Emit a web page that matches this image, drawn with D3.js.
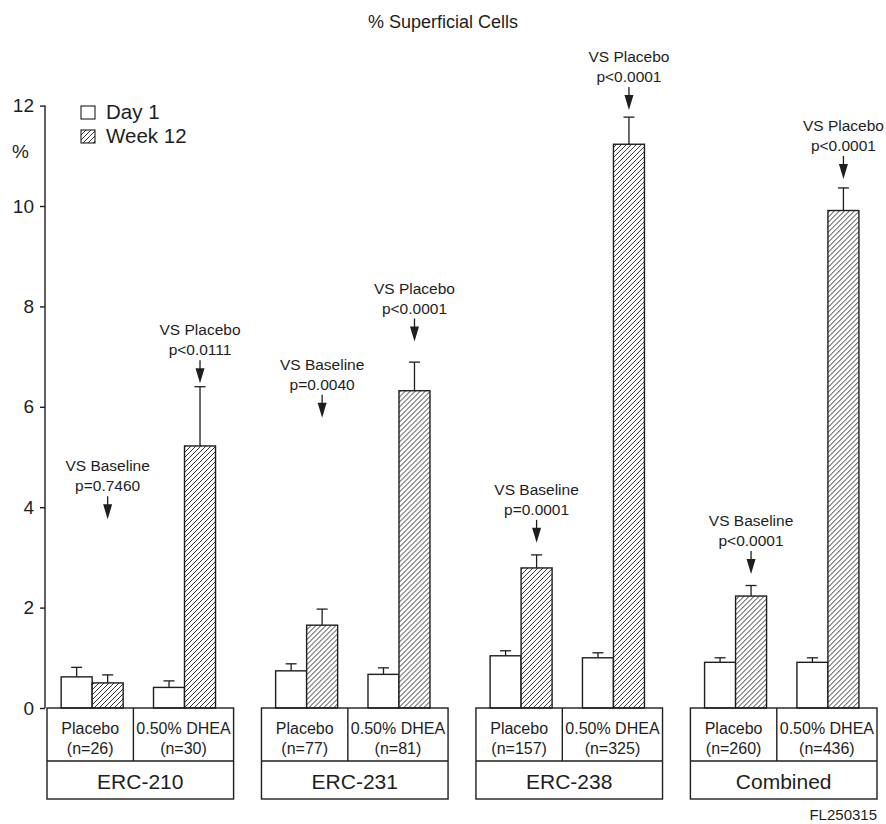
<!DOCTYPE html>
<html>
<head>
<meta charset="utf-8">
<script src="https://cdn.jsdelivr.net/npm/d3@7"></script>
<style>
  body { margin: 0; background: #fff; }
  svg { display: block; font-family: "Liberation Sans", Arial, Helvetica, sans-serif; }
</style>
</head>
<body>
<svg id="chart" width="886" height="824"></svg>
<script>
// ---- data ----
const studies = ["ERC-210", "ERC-231", "ERC-238", "Combined"];
const arms = ["Placebo", "0.50% DHEA"];
const timepoints = ["Day 1", "Week 12"];
const sampleSizes = [[26, 30], [77, 81], [157, 325], [260, 436]];
// mean % superficial cells, indexed [study][arm]
const day1Means   = [[0.62, 0.41], [0.74, 0.67], [1.04, 1.00], [0.91, 0.91]];
const day1Upper   = [[0.81, 0.54], [0.88, 0.80], [1.14, 1.10], [1.00, 1.00]];
const week12Means = [[0.50, 5.22], [1.65, 6.32], [2.79, 11.23], [2.23, 9.91]];
const week12Upper = [[0.66, 6.40], [1.97, 6.89], [3.05, 11.77], [2.44, 10.36]];
const yTicks = [0, 2, 4, 6, 8, 10, 12];
// significance notes over each Week 12 bar
const compLabels = [["VS Baseline", "VS Placebo"], ["VS Baseline", "VS Placebo"],
                    ["VS Baseline", "VS Placebo"], ["VS Baseline", "VS Placebo"]];
const pValues = [["p=0.7460", "p<0.0111"], ["p=0.0040", "p<0.0001"],
                 ["p=0.0001", "p<0.0001"], ["p<0.0001", "p<0.0001"]];
const arrowTips = [[3.76, 6.47], [5.78, 7.30], [3.29, 11.91], [2.67, 10.54]];

// ---- layout ----
const ink = "#1e1e1e";
const svg = d3.select("#chart");
const y = d3.scaleLinear().domain([0, 12]).range([708, 105.6]);
const x = d3.scaleBand().domain(studies).range([47, 877]).paddingInner(0.13);
const bw = x.bandwidth();
const armX = d3.scalePoint().domain(arms).range([bw * 0.242, bw * 0.737]);
const timeX = d3.scaleBand().domain(timepoints).range([-31, 31]);
const splitFrac = 0.463;
const row1 = 53, row2 = 38;

// hatch pattern
const defs = svg.append("defs");
const pat = defs.append("pattern").attr("id", "hatch")
  .attr("patternUnits", "userSpaceOnUse").attr("width", 5).attr("height", 5);
pat.append("rect").attr("width", 5).attr("height", 5).attr("fill", "#fff");
pat.append("path").attr("d", "M-1,1 l2,-2 M0,5 l5,-5 M4,6 l2,-2")
  .attr("stroke", ink).attr("stroke-width", 0.9);

// title
svg.append("text").attr("x", 443).attr("y", 28).attr("text-anchor", "middle")
  .attr("font-size", 18).attr("fill", ink).text("% Superficial Cells");

// y axis
const yAxis = d3.axisLeft(y).tickValues(yTicks).tickSize(5).tickPadding(6)
  .tickFormat(d3.format("d"));
const ya = svg.append("g").attr("transform", "translate(45,0)").call(yAxis);
ya.select(".domain").attr("stroke", ink).attr("stroke-width", 1.4).attr("d", `M0,${y(12)}V${y(0)}`);
ya.selectAll(".tick line").attr("stroke", ink).attr("stroke-width", 1.4);
ya.selectAll(".tick text").attr("font-size", 19).attr("fill", ink)
  .attr("font-family", "Liberation Sans, Arial, sans-serif");
svg.append("text").attr("x", 12).attr("y", 158).attr("font-size", 19).attr("fill", ink).text("%");

// legend
const leg = svg.append("g").attr("transform", "translate(81,106)");
timepoints.forEach((t, i) => {
  const g = leg.append("g").attr("transform", `translate(0,${i * 24})`);
  g.append("rect").attr("width", 14).attr("height", 13)
    .attr("fill", i ? "url(#hatch)" : "#fff").attr("stroke", ink).attr("stroke-width", 1.1);
  g.append("text").attr("x", 25).attr("y", 13).attr("font-size", 20.5).attr("fill", ink).text(t);
});

// per-study groups
studies.forEach((s, si) => {
  const g = svg.append("g").attr("transform", `translate(${x(s)},0)`);
  arms.forEach((a, ai) => {
    const cx = armX(a);
    const means = [day1Means[si][ai], week12Means[si][ai]];
    const uppers = [day1Upper[si][ai], week12Upper[si][ai]];
    timepoints.forEach((t, ti) => {
      const bx = cx + timeX(t);
      const mid = bx + timeX.bandwidth() / 2;
      // error bar
      g.append("line").attr("x1", mid).attr("x2", mid)
        .attr("y1", y(means[ti])).attr("y2", y(uppers[ti]))
        .attr("stroke", ink).attr("stroke-width", 1.3);
      g.append("line").attr("x1", mid - 5.5).attr("x2", mid + 5.5)
        .attr("y1", y(uppers[ti])).attr("y2", y(uppers[ti]))
        .attr("stroke", ink).attr("stroke-width", 1.3);
      // bar
      g.append("rect").attr("x", bx).attr("width", timeX.bandwidth())
        .attr("y", y(means[ti])).attr("height", y(0) - y(means[ti]))
        .attr("fill", ti ? "url(#hatch)" : "#fff")
        .attr("stroke", ink).attr("stroke-width", 1.4);
    });
    // significance note with arrow, over the Week 12 bar
    const ax = cx + timeX("Week 12") + timeX.bandwidth() / 2;
    const tip = y(arrowTips[si][ai]);
    const top = tip - 23;
    g.append("line").attr("x1", ax).attr("x2", ax).attr("y1", top).attr("y2", tip - 10)
      .attr("stroke", ink).attr("stroke-width", 1.3);
    g.append("path").attr("d", `M${ax - 4.5},${tip - 15}L${ax + 4.5},${tip - 15}L${ax},${tip}Z`)
      .attr("fill", ink);
    g.append("text").attr("x", ax).attr("y", top - 5).attr("text-anchor", "middle")
      .attr("font-size", 15.5).attr("fill", ink).text(pValues[si][ai]);
    g.append("text").attr("x", ax).attr("y", top - 25).attr("text-anchor", "middle")
      .attr("font-size", 15.5).attr("fill", ink).text(compLabels[si][ai]);
  });

  // table under the bars
  const split = bw * splitFrac;
  const t0 = y(0);
  g.append("rect").attr("x", 0).attr("y", t0).attr("width", bw).attr("height", row1 + row2)
    .attr("fill", "none").attr("stroke", ink).attr("stroke-width", 1.4);
  g.append("line").attr("x1", 0).attr("x2", bw).attr("y1", t0 + row1).attr("y2", t0 + row1)
    .attr("stroke", ink).attr("stroke-width", 1.4);
  g.append("line").attr("x1", split).attr("x2", split).attr("y1", t0).attr("y2", t0 + row1)
    .attr("stroke", ink).attr("stroke-width", 1.4);
  const cellMid = [split / 2, (split + bw) / 2];
  arms.forEach((a, ai) => {
    g.append("text").attr("x", cellMid[ai]).attr("y", t0 + 26).attr("text-anchor", "middle")
      .attr("font-size", 16).attr("fill", ink).text(a);
    g.append("text").attr("x", cellMid[ai]).attr("y", t0 + 46).attr("text-anchor", "middle")
      .attr("font-size", 16).attr("fill", ink).text(`(n=${sampleSizes[si][ai]})`);
  });
  g.append("text").attr("x", bw / 2).attr("y", t0 + row1 + 28).attr("text-anchor", "middle")
    .attr("font-size", 21).attr("fill", ink).text(s);
});

// figure code
svg.append("text").attr("x", 877).attr("y", 820).attr("text-anchor", "end")
  .attr("font-size", 15).attr("fill", ink).text("FL250315");
</script>
</body>
</html>
